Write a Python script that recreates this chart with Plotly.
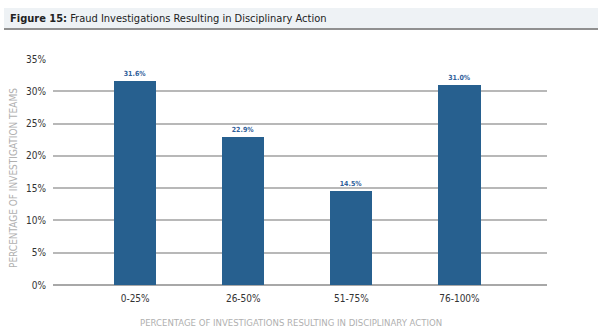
import plotly.graph_objects as go

# Share of investigation teams by disciplinary-action outcome band
categories = ["0-25%", "26-50%", "51-75%", "76-100%"]
values = [31.6, 22.9, 14.5, 31.0]
y_ticks = [0, 5, 10, 15, 20, 25, 30, 35]
y_tick_labels = ["0%", "5%", "10%", "15%", "20%", "25%", "30%", "35%"]

FONT = "DejaVu Sans Condensed, Liberation Sans Narrow, Roboto, sans-serif"
BAR = "#27608f"

W, H = 598, 332
L, R, T, B = 53, 51, 59, 47
pw, ph = W - L - R, H - T - B


def px_x(p):
    return (p - L) / pw


def px_y(p):
    return (H - B - p) / ph


positions = list(range(len(categories)))

fig = go.Figure()
fig.add_trace(go.Bar(
    x=positions,
    y=values,
    width=0.39,
    marker=dict(color=BAR, line=dict(width=0)),
    text=[f"<b>{v:.1f}%</b>" for v in values],
    textposition="outside",
    cliponaxis=False,
    textfont=dict(family=FONT, size=7, color="#2f609a"),
    hoverinfo="skip",
))

# Title band with rule underneath
fig.add_shape(type="rect", xref="paper", yref="paper",
              x0=px_x(4), x1=px_x(598), y0=px_y(28), y1=px_y(8),
              fillcolor="#eef2f5", line=dict(width=0), layer="below")
fig.add_shape(type="line", xref="paper", yref="paper",
              x0=px_x(4), x1=px_x(598), y0=px_y(29), y1=px_y(29),
              line=dict(color="#6b6b6b", width=1.5))
fig.add_annotation(xref="paper", yref="paper", x=px_x(8), y=px_y(18),
                   xanchor="left", yanchor="middle", showarrow=False,
                   text="<b>Figure 15:</b> Fraud Investigations Resulting in Disciplinary Action",
                   font=dict(family=FONT, size=11, color="#222222"))

# Axis titles
fig.add_annotation(xref="paper", yref="paper", x=px_x(291), y=px_y(322),
                   xanchor="center", yanchor="middle", showarrow=False,
                   text="PERCENTAGE OF INVESTIGATIONS RESULTING IN DISCIPLINARY ACTION",
                   font=dict(family=FONT, size=9.5, color="#b0b0b0"))
fig.add_annotation(xref="paper", yref="paper", x=px_x(13), y=px_y(178),
                   xanchor="center", yanchor="middle", showarrow=False, textangle=-90,
                   text="PERCENTAGE OF INVESTIGATION TEAMS",
                   font=dict(family=FONT, size=10, color="#b0b0b0"))

fig.update_layout(
    width=W, height=H,
    margin=dict(l=L, r=R, t=T, b=B, pad=0),
    paper_bgcolor="white", plot_bgcolor="white",
    showlegend=False,
    bargap=0,
    xaxis=dict(
        range=[-0.76, 3.81],
        tickmode="array", tickvals=positions, ticktext=categories,
        showgrid=False, zeroline=False, showline=False, ticks="",
        ticklabelstandoff=6,
        tickfont=dict(family=FONT, size=10, color="#333333"),
        fixedrange=True,
    ),
    yaxis=dict(
        range=[0, 35],
        tickmode="array", tickvals=y_ticks, ticktext=y_tick_labels,
        showgrid=True, gridcolor="#b8b8b8", gridwidth=1.5,
        zeroline=True, zerolinecolor="#a8a8a8", zerolinewidth=1.5,
        showline=False, ticks="", ticklabelstandoff=6,
        tickfont=dict(family=FONT, size=10, color="#333333"),
        fixedrange=True,
    ),
)

fig.write_html("out.html")
